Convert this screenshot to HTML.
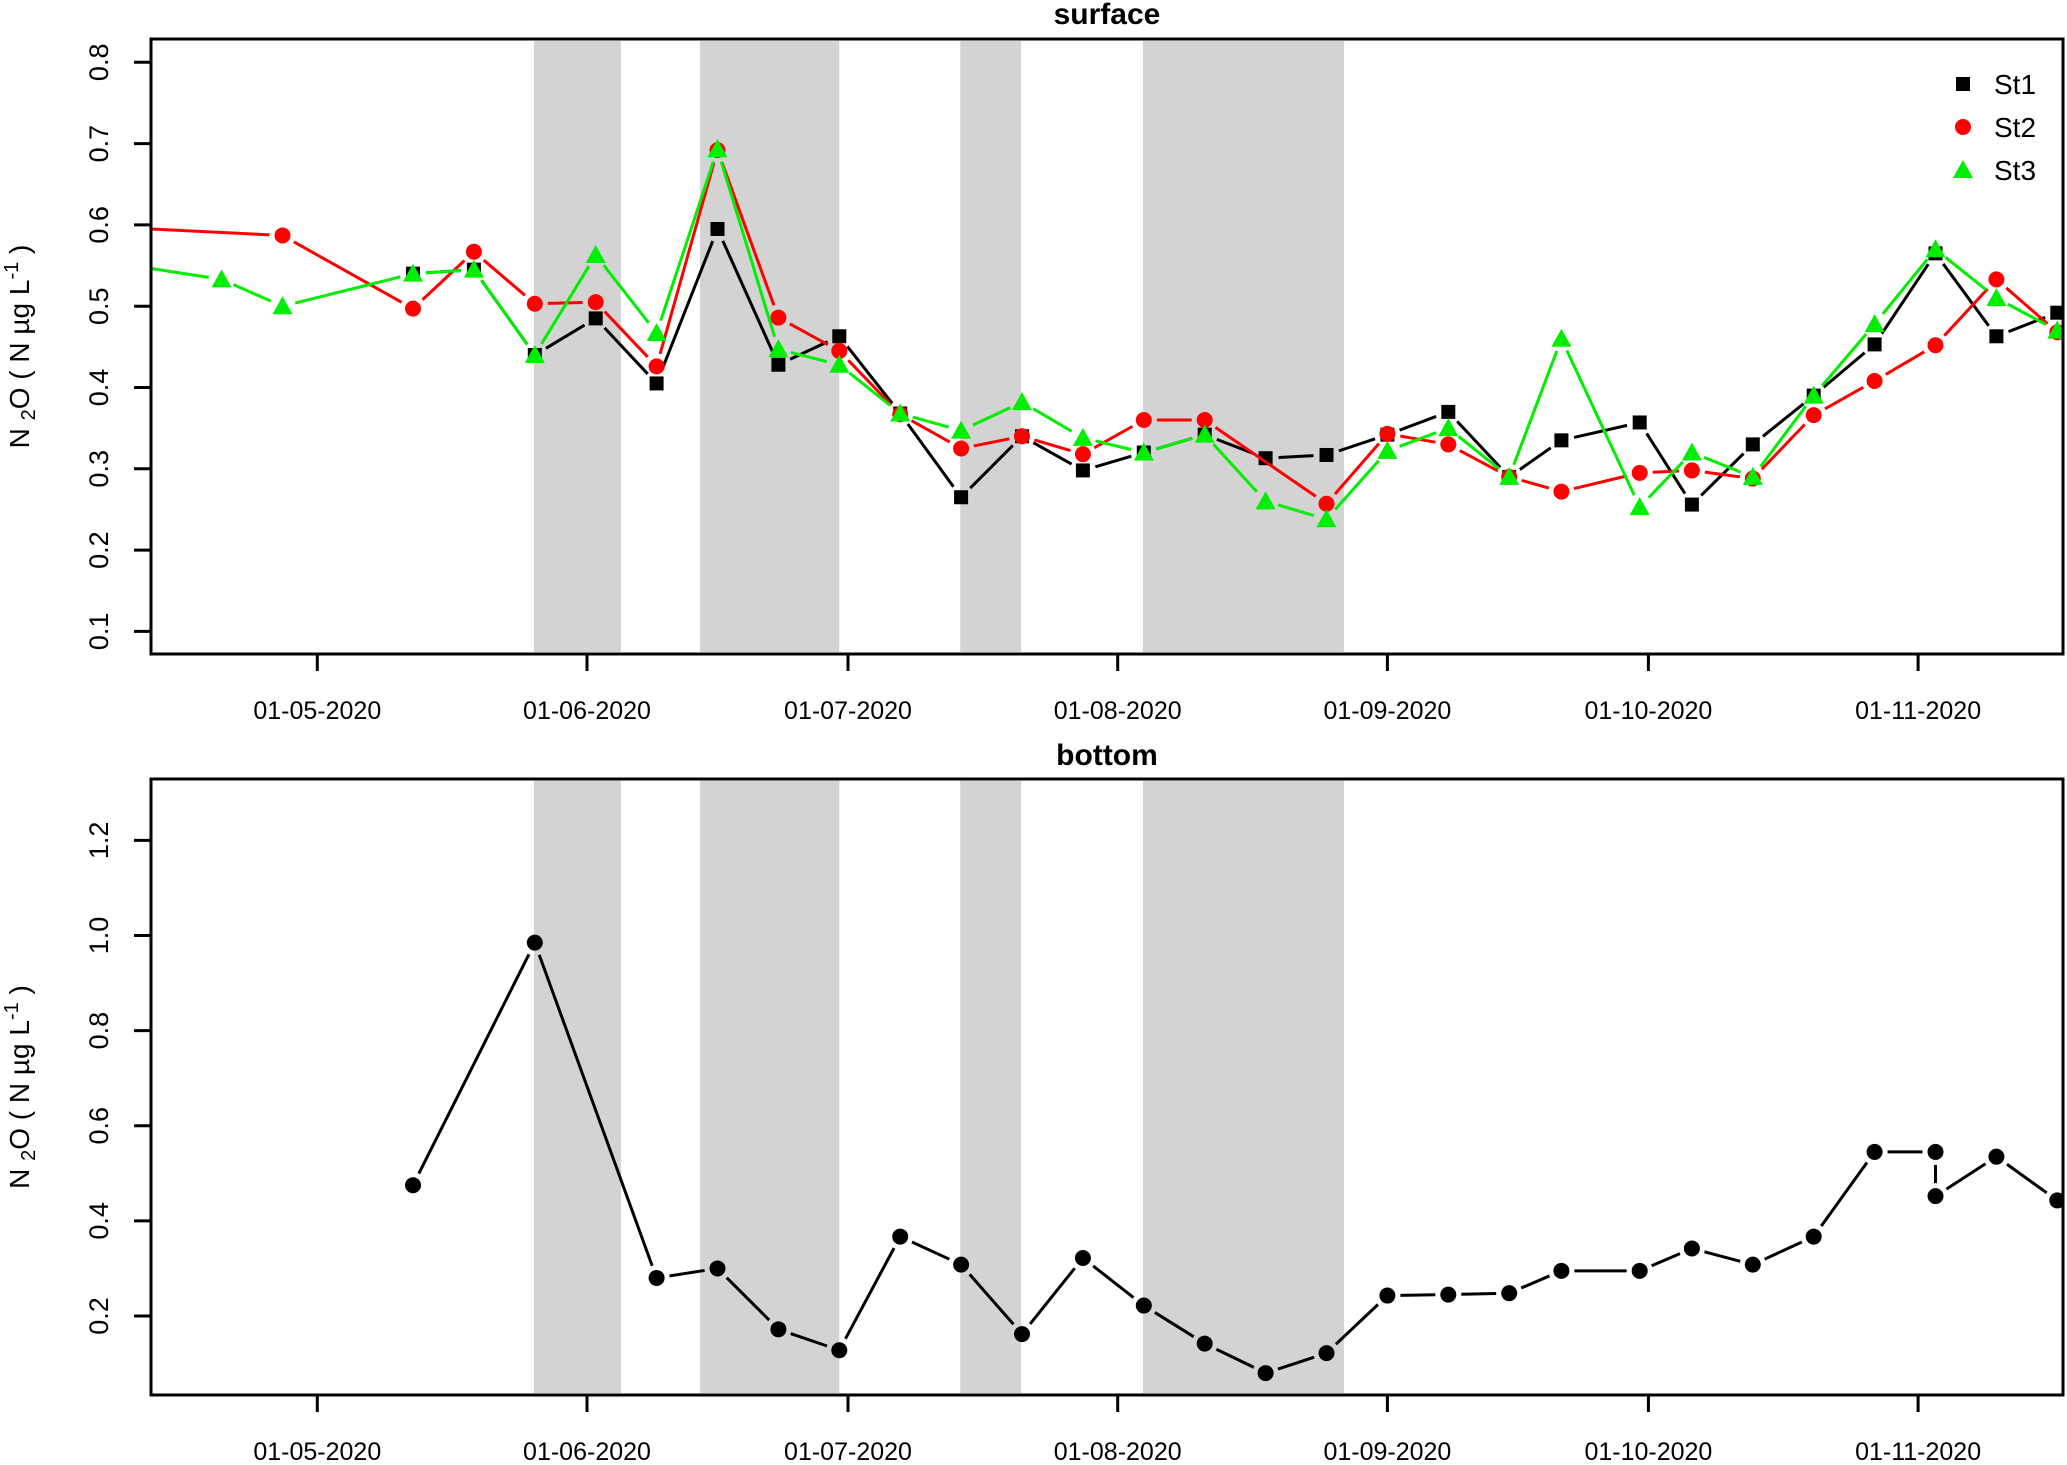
<!DOCTYPE html>
<html><head><meta charset="utf-8"><style>
html,body{margin:0;padding:0;background:#fff;}
svg text{font-family:"Liberation Sans",Arial,sans-serif;}
</style></head><body>
<svg id="chart" width="2067" height="1460" viewBox="0 0 2067 1460" xmlns="http://www.w3.org/2000/svg">
<defs>
<clipPath id="clipTop"><rect x="151" y="39" width="1912" height="615"/></clipPath>
<clipPath id="clipBot"><rect x="151" y="779" width="1912" height="616"/></clipPath>
</defs>
</svg>
<script>
// ---- data (days since 01-05-2020) ----
const xTickLabels = ["01-05-2020","01-06-2020","01-07-2020","01-08-2020","01-09-2020","01-10-2020","01-11-2020"];
const xTickDays = [0,31,61,92,123,153,184];
const shadeStart = [24.9,44,73.9,94.9];
const shadeEnd = [34.9,60,80.9,118];
const topYTicks = [0.1,0.2,0.3,0.4,0.5,0.6,0.7,0.8];
const botYTicks = [0.2,0.4,0.6,0.8,1.0,1.2];

const st1Days = [11,18,25,32,39,46,53,60,67,74,81,88,95,102,109,116,123,130,137,143,152,158,165,172,179,186,193,200,203];
const st1Vals = [0.54,0.545,0.44,0.485,0.405,0.595,0.428,0.463,0.368,0.265,0.34,0.298,0.32,0.342,0.313,0.317,0.342,0.37,0.29,0.335,0.357,0.256,0.33,0.39,0.453,0.565,0.463,0.492,0.53];
const st2Days = [-25,-4,11,18,25,32,39,46,53,60,67,74,81,88,95,102,116,123,130,137,143,152,158,165,172,179,186,193,200,203];
const st2Vals = [0.598,0.587,0.497,0.567,0.503,0.505,0.426,0.692,0.486,0.445,0.367,0.325,0.34,0.318,0.36,0.36,0.257,0.343,0.33,0.29,0.272,0.295,0.298,0.288,0.366,0.408,0.452,0.533,0.468,0.5];
const st3Days = [-25,-11,-4,11,18,25,32,39,46,53,60,67,74,81,88,95,102,109,116,123,130,137,143,152,158,165,172,179,186,193,200];
const st3Vals = [0.556,0.533,0.5,0.54,0.545,0.44,0.563,0.467,0.693,0.447,0.428,0.368,0.347,0.382,0.338,0.32,0.342,0.26,0.238,0.322,0.35,0.29,0.46,0.253,0.32,0.29,0.39,0.478,0.57,0.51,0.47];
const botDays = [11,25,39,46,53,60,67,74,81,88,95,102,109,116,123,130,137,143,152,158,165,172,179,186,186,193,200];
const botVals = [0.475,0.985,0.28,0.3,0.172,0.128,0.367,0.308,0.162,0.322,0.222,0.142,0.08,0.122,0.243,0.245,0.248,0.295,0.295,0.342,0.308,0.367,0.545,0.545,0.452,0.535,0.443];

const NS="http://www.w3.org/2000/svg";
const svg=document.getElementById('chart');
const X0=151,X1=2063;
function xs(d){return 317.3+d*8.70;}
function yTop(v){return 631.4-(v-0.1)*813;}
function yBot(v){return 1316-(v-0.2)*475.6;}
function mk(tag,attrs,parent){const e=document.createElementNS(NS,tag);for(const k in attrs)e.setAttribute(k,attrs[k]);(parent||svg).appendChild(e);return e;}

function panel(name,top,bot,yfn,yticks,title,titleY,fmt,clipId){
  const g=mk('g',{});
  
  
  const pg=mk('g',{'clip-path':'url(#'+clipId+')'},g);
  for(let i=0;i<shadeStart.length;i++){
    const r=mk('rect',{x:xs(shadeStart[i]),y:top+2,width:xs(shadeEnd[i])-xs(shadeStart[i]),height:bot-top-4,fill:'#d3d3d3'},pg);
    
    
  }
  const fr=mk('rect',{x:X0,y:top,width:X1-X0,height:bot-top,fill:'none',stroke:'#000','stroke-width':3},g);
  
  
  for(let i=0;i<xTickDays.length;i++){
    const x=xs(xTickDays[i]);
    mk('line',{x1:x,y1:bot,x2:x,y2:bot+17,stroke:'#000','stroke-width':3},g);
    const t=mk('text',{x:x,y:bot+65,'text-anchor':'middle','font-size':25},g);
    t.textContent=xTickLabels[i];
    
    
  }
  for(const v of yticks){
    const y=yfn(v);
    mk('line',{x1:X0,y1:y,x2:X0-17,y2:y,stroke:'#000','stroke-width':3},g);
    const t=mk('text',{x:0,y:0,'text-anchor':'middle','font-size':27,transform:'translate(108,'+y+') rotate(-90)'},g);
    t.textContent=fmt(v);
    
    
  }
  const tt=mk('text',{x:1107,y:titleY,'text-anchor':'middle','font-size':30,'font-weight':'bold'},g);
  tt.textContent=title;
  
  
  const yl=mk('text',{x:0,y:0,'text-anchor':'middle','font-size':28,transform:'translate(29,'+((top+bot)/2)+') rotate(-90)'},g);
  yl.innerHTML='N <tspan font-size="20" dy="6">2</tspan><tspan dy="-6">O ( N µg L</tspan><tspan font-size="20" dy="-11">-1</tspan><tspan dy="11"> )</tspan>';
  
  
  return pg;
}

function series(pg,name,days,vals,yfn,color,shape){
  const g=mk('g',{},pg);
  
  
  const gap=13;
  for(let i=0;i<days.length-1;i++){
    const x1=xs(days[i]),y1=yfn(vals[i]),x2=xs(days[i+1]),y2=yfn(vals[i+1]);
    const L=Math.hypot(x2-x1,y2-y1); if(L<=2*gap) continue;
    const ux=(x2-x1)/L,uy=(y2-y1)/L;
    mk('line',{x1:x1+ux*gap,y1:y1+uy*gap,x2:x2-ux*gap,y2:y2-uy*gap,stroke:color,'stroke-width':3},g);
  }
  for(let i=0;i<days.length;i++){
    const x=xs(days[i]),y=yfn(vals[i]);let m;
    if(shape==='square') m=mk('rect',{x:x-7,y:y-7,width:14,height:14,fill:color},g);
    else if(shape==='circle') m=mk('circle',{cx:x,cy:y,r:8,fill:color},g);
    else m=mk('polygon',{points:(x)+','+(y-10)+' '+(x-10)+','+(y+8)+' '+(x+10)+','+(y+8),fill:color},g);
    
    
  }
}

const f1=v=>v.toFixed(1);
const pTop=panel('surface',39,654,yTop,topYTicks,'surface',24,f1,'clipTop');
series(pTop,'st1-series',st1Days,st1Vals,yTop,'#000','square');
series(pTop,'st2-series',st2Days,st2Vals,yTop,'#ff0000','circle');
series(pTop,'st3-series',st3Days,st3Vals,yTop,'#00ee00','triangle');
const pBot=panel('bottom',779,1395,yBot,botYTicks,'bottom',765,f1,'clipBot');
series(pBot,'bottom-series',botDays,botVals,yBot,'#000','circle');

// legend
const lg=mk('g',{});


const legNames=['St1','St2','St3'],legY=[84,127,170],legCol=['#000','#ff0000','#00ee00'];
for(let i=0;i<3;i++){
  const y=legY[i],x=1963;
  if(i===0) mk('rect',{x:x-7,y:y-7,width:14,height:14,fill:legCol[i]},lg);
  else if(i===1) mk('circle',{cx:x,cy:y,r:8,fill:legCol[i]},lg);
  else mk('polygon',{points:x+','+(y-10)+' '+(x-10)+','+(y+8)+' '+(x+10)+','+(y+8),fill:legCol[i]},lg);
  const t=mk('text',{x:1994,y:y+10,'font-size':28},lg);
  t.textContent=legNames[i];
  
  
}
</script>
</body></html>
